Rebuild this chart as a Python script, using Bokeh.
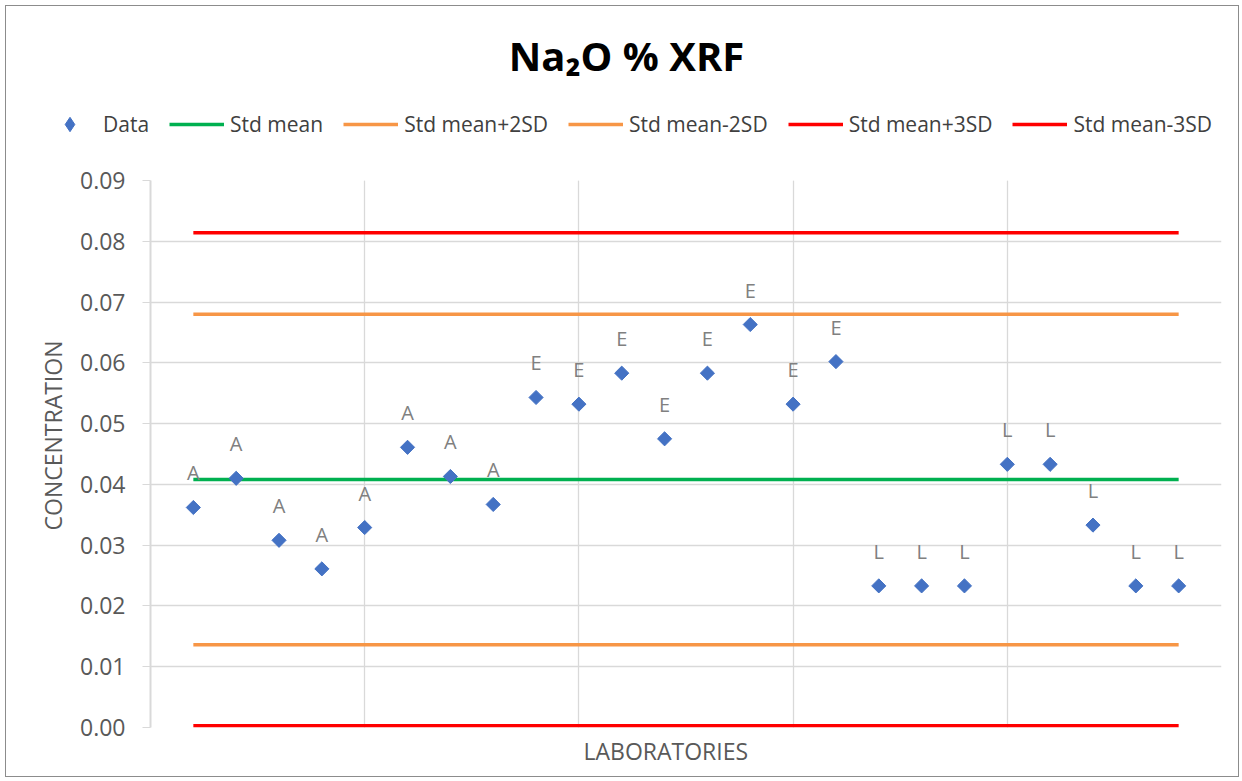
from bokeh.plotting import figure
from bokeh.layouts import column
from bokeh.models import Range1d, FixedTicker, Legend, LegendItem, Title, ColumnDataSource, Label, Grid
from bokeh.core.properties import value
from bokeh.embed import file_html
from bokeh.resources import INLINE
import math

# ---- data ----
labs = list(range(1, 25))
conc = [0.0362, 0.0410, 0.0308, 0.0261, 0.0329, 0.0461, 0.0413, 0.0367,
        0.0543, 0.0532, 0.0583, 0.0475, 0.0583, 0.0663, 0.0532, 0.0602,
        0.0233, 0.0233, 0.0233, 0.0433, 0.0433, 0.0333, 0.0233, 0.0233]
groups = ["A", "A", "A", "A", "A", "A", "A", "A",
          "E", "E", "E", "E", "E", "E", "E", "E",
          "L", "L", "L", "L", "L", "L", "L", "L"]
std_mean = 0.0408
std_plus2 = 0.0680
std_minus2 = 0.0136
std_plus3 = 0.0814
std_minus3 = 0.0003
ytick_vals = [0.00, 0.01, 0.02, 0.03, 0.04, 0.05, 0.06, 0.07, 0.08, 0.09]
ytick_labels = ["0.00", "0.01", "0.02", "0.03", "0.04", "0.05", "0.06", "0.07", "0.08", "0.09"]
xgrid_vals = [5, 10, 15, 20, 25]
series_names = ["Data", "Std mean", "Std mean+2SD", "Std mean-2SD", "Std mean+3SD", "Std mean-3SD"]
line_colors = ["#00B050", "#F79646", "#F79646", "#FF0000", "#FF0000"]
line_values = [std_mean, std_plus2, std_minus2, std_plus3, std_minus3]

FONT = "Open Sans"
GRID = "#d9d9d9"
TXT = "#595959"
DATA_COLOR = "#4472C4"
W = 1232
HEAD_H = 150
MAIN_H = 620
x_ends = [labs[0], labs[-1]]

# ---------- header: title + legend ----------
head = figure(width=W, height=HEAD_H, output_backend="svg", toolbar_location=None,
              x_range=Range1d(0, W), y_range=Range1d(20, 20 + HEAD_H),
              x_axis_location=None, y_axis_location=None,
              min_border=0, min_border_left=0, min_border_right=0,
              min_border_top=0, min_border_bottom=0)
head.frame_align = False
head.grid.visible = False
head.outline_line_color = None
head.border_fill_color = "white"
head.background_fill_color = "white"

head.add_layout(Label(x=620, y=121, text="Na\u2082O % XRF", text_align="center",
                      text_baseline="alphabetic", text_font=FONT, text_font_size="40px",
                      text_font_style="bold", text_color="black"))

# legend proxies (same series, falling outside the header's visible range)
leg_data = head.scatter(labs, conc, marker="diamond", size=16,
                        fill_color=DATA_COLOR, line_color=DATA_COLOR)
leg_lines = [head.line(x_ends, [v, v], line_color=c, line_width=3.5)
             for v, c in zip(line_values, line_colors)]
items = [LegendItem(label=series_names[0], renderers=[leg_data])]
items += [LegendItem(label=n, renderers=[r]) for n, r in zip(series_names[1:], leg_lines)]
legend = Legend(items=items, orientation="horizontal", location=(36, 14),
                glyph_width=55, glyph_height=36, label_standoff=6, spacing=20,
                padding=0, margin=0, label_height=20,
                label_text_font=FONT, label_text_font_size="21px", label_text_color="#404040",
                border_line_color=None, background_fill_alpha=0)
head.add_layout(legend)

# ---------- main chart ----------
p = figure(width=W, height=MAIN_H, output_backend="svg", toolbar_location=None,
           x_range=Range1d(0, 25), y_range=Range1d(0, 0.09), x_axis_location=None,
           min_border_left=144, min_border_right=17, min_border_top=24, min_border_bottom=49)
p.outline_line_color = None
p.background_fill_color = "white"
p.border_fill_color = "white"

p.yaxis.ticker = FixedTicker(ticks=ytick_vals)
p.yaxis.major_label_overrides = {v: s for v, s in zip(ytick_vals, ytick_labels)}
p.yaxis.major_label_text_font = FONT
p.yaxis.major_label_text_font_size = "23px"
p.yaxis.major_label_text_color = TXT
p.yaxis.major_label_standoff = 17
p.yaxis.major_tick_out = 8
p.yaxis.major_tick_in = 0
p.yaxis.minor_tick_line_color = None
p.yaxis.major_tick_line_color = GRID
p.yaxis.axis_line_color = GRID
p.yaxis.axis_line_width = 2

p.add_layout(Title(text="CONCENTRATION", align="left", offset=197, standoff=18,
                   text_font=FONT, text_font_size="23px", text_font_style="normal",
                   text_color=TXT), "left")

p.ygrid.grid_line_color = GRID
p.ygrid.grid_line_width = 1.3
p.add_layout(Grid(dimension=0, ticker=FixedTicker(ticks=xgrid_vals),
                  grid_line_color=GRID, grid_line_width=1.3))

p.add_layout(Title(text="LABORATORIES", align="left", offset=433, standoff=10,
                   text_font=FONT, text_font_size="23px", text_font_style="normal",
                   text_color=TXT), "below")

for v, c in zip(line_values, line_colors):
    p.line(x_ends, [v, v], line_color=c, line_width=3.5)

src = ColumnDataSource(dict(x=labs, y=conc, g=groups))
p.scatter("x", "y", source=src, marker="square", size=10, angle=math.pi / 4,
          fill_color=DATA_COLOR, line_color=DATA_COLOR)
p.text("x", "y", text="g", source=src, y_offset=-21, text_align="center",
       text_baseline="bottom", text_font=value(FONT), text_font_size="20px",
       text_color="#808080")

layout = column(head, p, spacing=0,
                styles={"border": "1px solid #8c8c8c", "margin-left": "5px", "margin-top": "5px"})

open("out.html", "w").write(file_html(layout, INLINE))
